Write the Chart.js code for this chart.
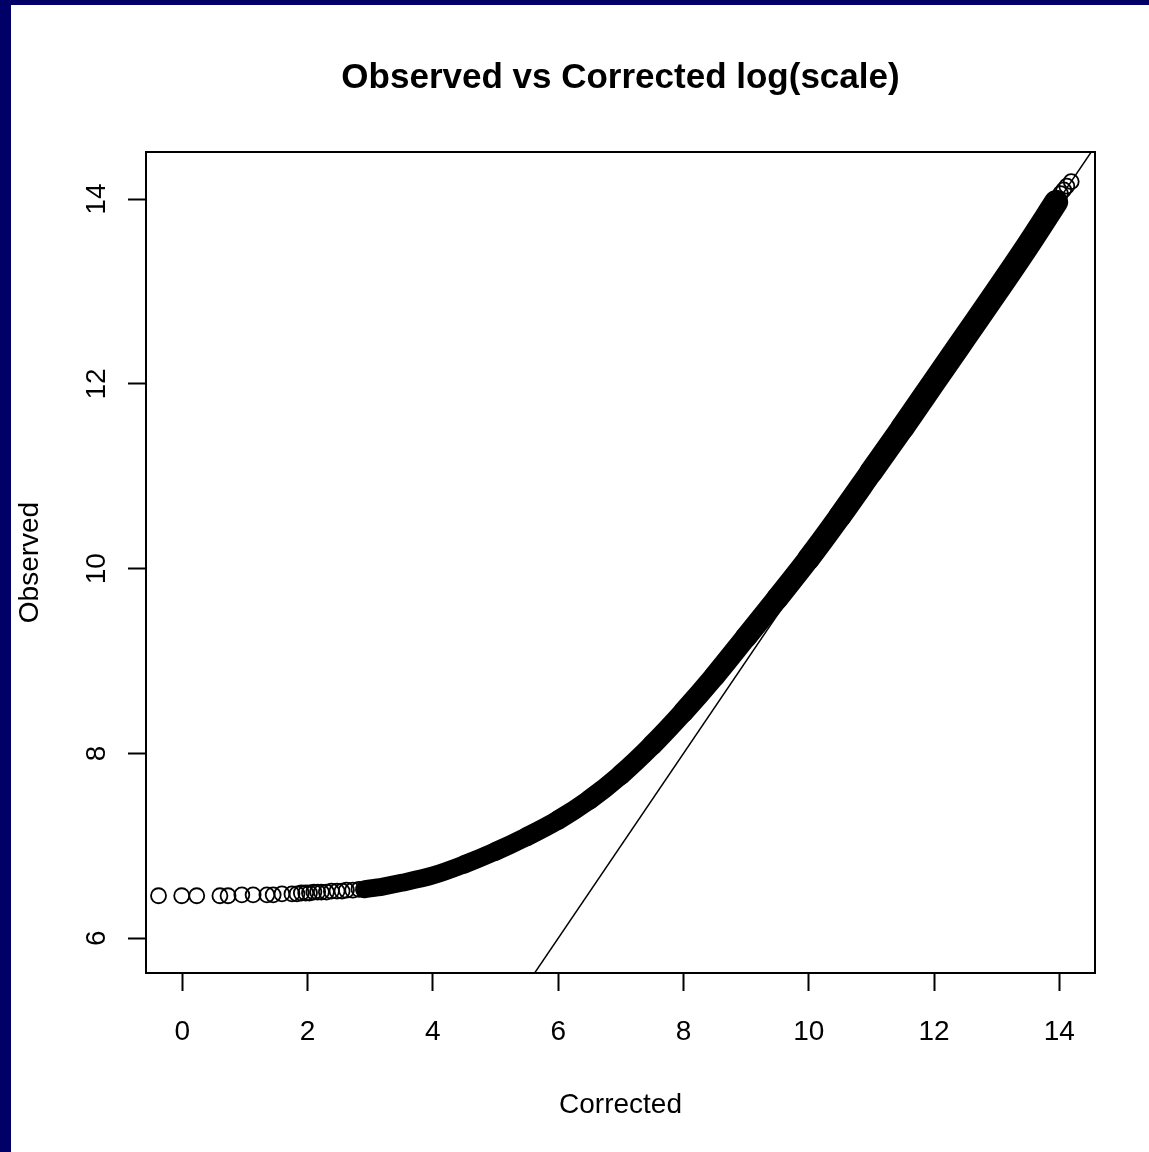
<!DOCTYPE html>
<html><head><meta charset="utf-8">
<script src="https://cdn.jsdelivr.net/npm/chart.js@4/dist/chart.umd.min.js"></script>
<style>html,body{margin:0;padding:0;background:#fff;overflow:hidden}canvas{display:block}</style>
</head><body>
<canvas id="c" width="1149" height="1152"></canvas>
<script>
const chartTitle = 'Observed vs Corrected log(scale)';
const xTitle = 'Corrected';
const yTitle = 'Observed';
const xTicks = [0, 2, 4, 6, 8, 10, 12, 14];
const yTicks = [6, 8, 10, 12, 14];
const xRange = [-0.58, 14.57];
const yRange = [5.624, 14.51];

// individually visible points (sparse low end and top end)
const sparseX = [-0.38, -0.01, 0.23, 0.60, 0.73, 0.95, 1.13, 1.35, 1.45, 1.59, 1.75, 1.83, 1.90, 1.97, 2.03, 2.10, 2.16, 2.22, 2.30, 2.38, 2.47, 2.55, 2.62, 2.72, 2.82, 14.02, 14.07, 14.12, 14.19];
const sparseY = [6.46, 6.46, 6.46, 6.46, 6.46, 6.47, 6.47, 6.47, 6.47, 6.48, 6.48, 6.48, 6.49, 6.49, 6.49, 6.50, 6.50, 6.50, 6.50, 6.51, 6.51, 6.51, 6.52, 6.52, 6.53, 14.06, 14.10, 14.14, 14.19];

// densely overplotted points (centre of the solid band)
const bandX = [2.9, 3.2, 3.5, 4.0, 4.5, 5.0, 5.5, 6.0, 6.5, 7.0, 7.5, 8.0, 8.5, 9.0, 9.5, 10.0, 10.5, 11.0, 11.5, 12.0, 12.5, 13.0, 13.5, 13.95];
const bandY = [6.53, 6.56, 6.60, 6.68, 6.80, 6.94, 7.10, 7.28, 7.50, 7.77, 8.09, 8.45, 8.84, 9.26, 9.68, 10.11, 10.57, 11.05, 11.53, 12.02, 12.51, 13.0, 13.5, 13.97];

// identity reference line y = x
const refX = [0, 15];
const refY = [0, 15];

const FONT = '"Liberation Sans", Arial, Helvetica, sans-serif';

const decor = {
  id: 'decor',
  beforeDraw(chart) {
    const ctx = chart.ctx;
    ctx.save();
    ctx.fillStyle = '#ffffff';
    ctx.fillRect(0, 0, chart.width, chart.height);
    ctx.fillStyle = '#000066';
    ctx.fillRect(0, 0, chart.width, 5);
    ctx.fillRect(0, 0, 11, chart.height);
    ctx.restore();
  },
  afterDraw(chart) {
    const {ctx, chartArea: a} = chart;
    ctx.save();
    ctx.strokeStyle = '#000';
    ctx.lineWidth = 2;
    ctx.strokeRect(a.left, a.top, a.right - a.left, a.bottom - a.top);
    ctx.fillStyle = '#000';
    ctx.font = 'bold 35px ' + FONT;
    ctx.textAlign = 'center';
    ctx.textBaseline = 'middle';
    ctx.fillText(chartTitle, (a.left + a.right) / 2, 78);
    ctx.restore();
  }
};

const pts = (xs, ys) => xs.map((x, i) => ({x: x, y: ys[i]}));
// overplotting spreads the band a little more at the upper end
const bandWidth = c => Math.max(18, Math.min(24, 18 + (c.p0.parsed.x - 4) * 0.8));

new Chart(document.getElementById('c'), {
  type: 'scatter',
  data: {
    datasets: [
      { label: 'y = x', data: pts(refX, refY), showLine: true, borderColor: '#000', borderWidth: 1.5, pointRadius: 0, fill: false },
      { label: 'dense', data: pts(bandX, bandY), showLine: true, borderColor: '#000', borderWidth: 18, pointRadius: 0,
        cubicInterpolationMode: 'monotone', borderCapStyle: 'round', borderJoinStyle: 'round', fill: false,
        segment: { borderWidth: bandWidth } },
      { label: 'sparse', data: pts(sparseX, sparseY), showLine: false, pointStyle: 'circle', pointRadius: 7.5,
        pointBorderWidth: 1.8, pointBorderColor: '#000', pointBackgroundColor: 'rgba(0,0,0,0)' }
    ]
  },
  options: {
    responsive: false,
    animation: false,
    devicePixelRatio: 1,
    layout: { padding: { left: 0, top: 152, right: 54, bottom: 0 } },
    plugins: { legend: { display: false }, tooltip: { enabled: false }, title: { display: false } },
    scales: {
      x: {
        type: 'linear', position: 'bottom', min: xRange[0], max: xRange[1],
        afterBuildTicks: s => { s.ticks = xTicks.map(v => ({value: v})); },
        afterFit: s => { s.height = 179; },
        grid: { display: true, drawOnChartArea: false, drawTicks: true, tickLength: 18, tickWidth: 2, tickColor: '#000' },
        border: { display: true, color: '#000', width: 2 },
        ticks: { color: '#000', font: { family: FONT, size: 28 }, padding: 24, maxRotation: 0, minRotation: 0, autoSkip: false,
          callback: v => String(v) },
        title: { display: true, text: xTitle, color: '#000', font: { family: FONT, size: 28 }, padding: { top: 0, bottom: 30 } }
      },
      y: {
        type: 'linear', position: 'left', min: yRange[0], max: yRange[1],
        afterBuildTicks: s => { s.ticks = yTicks.map(v => ({value: v})); },
        afterFit: s => { s.width = 146; },
        grid: { display: true, drawOnChartArea: false, drawTicks: true, tickLength: 18, tickWidth: 2, tickColor: '#000' },
        border: { display: true, color: '#000', width: 2 },
        ticks: { color: '#000', font: { family: FONT, size: 28 }, padding: 15, minRotation: 90, maxRotation: 90, crossAlign: 'center',
          autoSkip: false, callback: v => String(v) },
        title: { display: true, text: yTitle, color: '#000', font: { family: FONT, size: 28 }, padding: { top: 13, bottom: 0 } }
      }
    }
  },
  plugins: [decor]
});
</script>
</body></html>
